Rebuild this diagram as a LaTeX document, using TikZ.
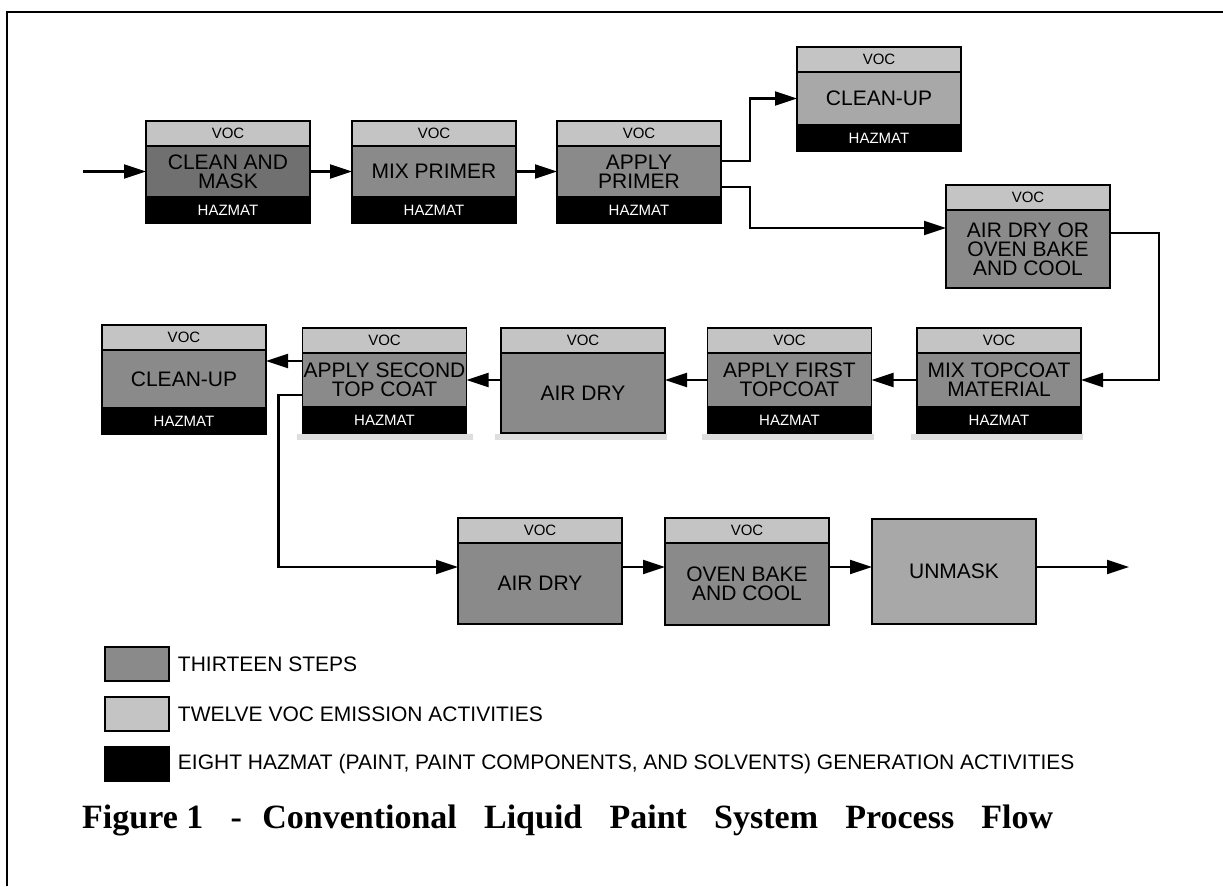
\documentclass[tikz,border=0pt]{standalone}
\usepackage{fontspec}
\setmainfont{Liberation Sans}
\newfontfamily\capfont{Liberation Serif}
\usetikzlibrary{positioning,arrows.meta}
\definecolor{vocgray}{RGB}{196,196,196}
\definecolor{stepgray}{RGB}{138,138,138}
\definecolor{darkstep}{RGB}{112,112,112}
\definecolor{lightstep}{RGB}{168,168,168}
\definecolor{shadowgray}{RGB}{222,222,222}
\begin{document}
\begin{tikzpicture}[x=1pt,y=-1pt,
    flow/.style={line width=2.2pt,-{Triangle[length=22pt,width=14pt]}},
    stepbox/.style={draw,line width=1.8pt,fill=stepgray,minimum width=164pt,inner sep=0pt,outer sep=0pt,
      align=center,font=\fontsize{21}{19}\selectfont},
    vocband/.style={draw,line width=1.8pt,fill=vocgray,minimum width=164pt,minimum height=25pt,inner sep=0pt,
      outer sep=0pt,font=\fontsize{15}{15}\selectfont},
    hazband/.style={draw,line width=1.8pt,fill=black,text=white,minimum width=164pt,minimum height=26pt,
      inner sep=0pt,outer sep=0pt,font=\fontsize{15}{15}\selectfont},
    legbox/.style={draw,line width=1.5pt,minimum width=64pt,minimum height=34pt,inner sep=0pt},
    legtext/.style={font=\fontsize{21}{21}\selectfont,inner sep=0pt}
  ]
  \useasboundingbox (0,0) rectangle (1223,886);
  % frame
  \draw[line width=2.5pt] (7,886) -- (7,12) -- (1223,12);

  % first row
  \node[stepbox,fill=darkstep,minimum height=51pt] (cam) at (228,171.5) {CLEAN AND\\MASK};
  \node[vocband,above=0pt of cam] (camV) {VOC};
  \node[hazband,below=0pt of cam] (camH) {HAZMAT};
  \node[stepbox,minimum height=51pt] (mixp) at (434,171.5) {MIX PRIMER};
  \node[vocband,above=0pt of mixp] (mixpV) {VOC};
  \node[hazband,below=0pt of mixp] (mixpH) {HAZMAT};
  \node[stepbox,minimum height=51pt] (prim) at (639,171.5) {APPLY\\PRIMER};
  \node[vocband,above=0pt of prim] (primV) {VOC};
  \node[hazband,below=0pt of prim] (primH) {HAZMAT};
  \node[stepbox,fill=lightstep,minimum height=53pt] (cln1) at (879,98.5) {CLEAN-UP};
  \node[vocband,above=0pt of cln1] (cln1V) {VOC};
  \node[hazband,below=0pt of cln1] (cln1H) {HAZMAT};
  \node[stepbox,minimum height=78pt] (aird1) at (1028,249) {AIR DRY OR\\OVEN BAKE\\AND COOL};
  \node[vocband,above=0pt of aird1] (aird1V) {VOC};

  % second row
  \node[stepbox,minimum height=54pt] (mixt) at (999,380) {MIX TOPCOAT\\MATERIAL};
  \node[vocband,above=0pt of mixt] (mixtV) {VOC};
  \node[hazband,below=0pt of mixt] (mixtH) {HAZMAT};
  \node[stepbox,minimum height=54pt] (appf) at (789.5,380) {APPLY FIRST\\TOPCOAT};
  \node[vocband,above=0pt of appf] (appfV) {VOC};
  \node[hazband,below=0pt of appf] (appfH) {HAZMAT};
  \node[stepbox,minimum height=80pt] (aird2) at (583,393) {AIR DRY};
  \node[vocband,above=0pt of aird2] (aird2V) {VOC};
  \node[stepbox,minimum height=54pt] (apps) at (384.5,380) {APPLY SECOND\\TOP COAT};
  \node[vocband,above=0pt of apps] (appsV) {VOC};
  \node[hazband,below=0pt of apps] (appsH) {HAZMAT};
  \node[stepbox,minimum height=58pt] (cln2) at (184,379) {CLEAN-UP};
  \node[vocband,above=0pt of cln2] (cln2V) {VOC};
  \node[hazband,below=0pt of cln2] (cln2H) {HAZMAT};

  % shadows under second row
  \fill[shadowgray] ([xshift=-6pt,yshift=-1pt]mixtH.south west) rectangle ([xshift=2pt,yshift=-7pt]mixtH.south east);
  \fill[shadowgray] ([xshift=-6pt,yshift=-1pt]appfH.south west) rectangle ([xshift=2pt,yshift=-7pt]appfH.south east);
  \fill[shadowgray] ([xshift=-6pt,yshift=-1pt]aird2.south west) rectangle ([xshift=2pt,yshift=-7pt]aird2.south east);
  \fill[shadowgray] ([xshift=-6pt,yshift=-1pt]appsH.south west) rectangle ([xshift=6pt,yshift=-7pt]appsH.south east);

  % third row
  \node[stepbox,minimum height=81pt] (aird3) at (540,583.5) {AIR DRY};
  \node[vocband,above=0pt of aird3] (aird3V) {VOC};
  \node[stepbox,minimum height=82pt] (oven) at (747,584) {OVEN BAKE\\AND COOL};
  \node[vocband,above=0pt of oven] (ovenV) {VOC};
  \node[stepbox,fill=lightstep,minimum height=105pt] (unm) at (954,571.5) {UNMASK};

  \coordinate (start) at (83,171.5);
  \coordinate (row3) at (0,567);
  \coordinate (finish) at (1129,567);

  % flow
  \draw[flow] (start) -- (cam.west);
  \draw[flow] (cam) -- (mixp);
  \draw[flow] (mixp) -- (prim);
  \draw[flow] ([yshift=10.5pt]prim.east) -- ++(29,0) |- (cln1.west);
  \draw[flow] ([yshift=-15.5pt]prim.east) -- ++(29,0) |- ([yshift=21pt]aird1.west);
  \draw[flow] ([yshift=16pt]aird1.east) -- ++(49,0) |- (mixt.east);
  \draw[flow] (mixt) -- (appf);
  \draw[flow] (appf.west) -- (appf.west -| aird2.east);
  \draw[flow] (apps.east -| aird2.west) -- (apps.east);
  \draw[flow] ([yshift=19pt]apps.west) -- ([yshift=19pt]apps.west -| cln2.east);
  \draw[flow] ([yshift=-15pt]apps.west) -- ++(-24,0) |- (aird3.west |- row3);
  \draw[flow] (aird3.east |- row3) -- (oven.west |- row3);
  \draw[flow] (oven.east |- row3) -- (unm.west |- row3);
  \draw[flow] (unm.east |- row3) -- (finish);

  % legend
  \node[legbox,fill=stepgray] (legstep) at (137,664) {};
  \node[legtext,right=8pt of legstep] (legsteptext) {THIRTEEN STEPS};
  \node[legbox,fill=vocgray] (legvoc) at (137,714) {};
  \node[legtext,right=8pt of legvoc] (legvoctext) {TWELVE VOC EMISSION ACTIVITIES};
  \node[legbox,fill=black] (leghaz) at (137,764) {};
  \node[legtext,right=8pt of leghaz] (leghaztext) {EIGHT HAZMAT (PAINT, PAINT COMPONENTS, AND SOLVENTS) GENERATION ACTIVITIES};
  \node[anchor=west,inner sep=0pt,font=\capfont\bfseries\fontsize{34}{34}\selectfont] (caption) at (82,820)
    {Figure\hspace{0.25em}1\hspace{0.8em}-\hspace{0.6em}Conventional\hspace{0.8em}Liquid\hspace{0.8em}Paint\hspace{0.8em}System\hspace{0.8em}Process\hspace{0.8em}Flow};
\end{tikzpicture}
\end{document}
